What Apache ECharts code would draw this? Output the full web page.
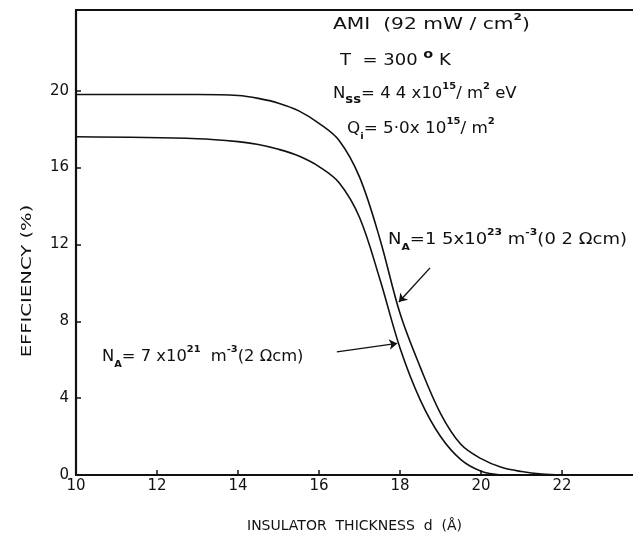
<!DOCTYPE html>
<html>
<head>
<meta charset="utf-8">
<script src="https://cdn.jsdelivr.net/npm/echarts@6/dist/echarts.min.js"></script>
<style>
  html, body { margin: 0; padding: 0; background: #fff; }
  #chart-container { width: 633px; height: 537px; }
</style>
</head>
<body>
<div id="chart-container"></div>
<script>
// curve for N_A = 1.5x10^23 m^-3 (0.2 ohm cm)
var dHigh = [10, 13, 14, 14.5, 15, 15.5, 16, 16.5, 17, 17.5, 18, 18.5, 19, 19.5, 20, 20.5, 21, 21.5, 22];
var effHigh = [19.8, 19.8, 19.75, 19.6, 19.35, 18.95, 18.3, 17.4, 15.5, 12.3, 8.4, 5.6, 3.2, 1.6, 0.85, 0.4, 0.18, 0.05, 0];
// curve for N_A = 7x10^21 m^-3 (2 ohm cm)
var dLow = [10, 13, 14, 14.5, 15, 15.5, 16, 16.5, 17, 17.5, 18, 18.5, 19, 19.5, 20, 20.5];
var effLow = [17.6, 17.5, 17.35, 17.2, 16.95, 16.6, 16.05, 15.2, 13.4, 10.2, 6.6, 3.9, 2.0, 0.8, 0.2, 0];

var xTicks = [10, 12, 14, 16, 18, 20, 22];
var yTicks = [0, 4, 8, 12, 16, 20];

// label arrows [from, to] in data units
var arrows = [
  [[18.74, 10.78], [17.97, 9.0]],
  [[16.44, 6.41], [17.93, 6.85]]
];

var FONT = '"DejaVu Sans", sans-serif';
var INK = '#111';

var dom = document.getElementById('chart-container');
var myChart = echarts.init(dom, null, {renderer: 'canvas'});

var rich = {
  n: {fontSize: 15, fontFamily: FONT, color: INK, lineHeight: 24},
  sup: {fontSize: 9, fontFamily: FONT, color: INK, fontWeight: 'bold', verticalAlign: 'top'},
  sub: {fontSize: 9, fontFamily: FONT, color: INK, fontWeight: 'bold', verticalAlign: 'bottom'},
  subs: {fontSize: 12, fontFamily: FONT, color: INK, fontWeight: 'bold', verticalAlign: 'bottom'},
  deg: {fontSize: 12, fontFamily: FONT, color: INK, fontWeight: 'bold', verticalAlign: 'top'}
};

function note(x, y, str, sx) {
  return {
    type: 'text', x: x, y: y, scaleX: sx || 1,
    style: {text: str, rich: rich, fill: INK, font: '15px ' + FONT,
      align: 'left', verticalAlign: 'middle', textAlign: 'left', textVerticalAlign: 'middle'}
  };
}

function pairs(xs, ys) {
  return xs.map(function (x, i) { return [x, ys[i]]; });
}

option = {
  backgroundColor: '#fff',
  animation: false,
  grid: {left: 76, top: 10, right: 0, bottom: 62, outerBoundsMode: 'none'},
  xAxis: [
    {
      type: 'value', min: 10, max: 23.75, interval: 2,
      name: 'INSULATOR  THICKNESS  d  (Å)', nameLocation: 'middle', nameGap: 44,
      nameTextStyle: {fontSize: 14, fontFamily: FONT, color: INK},
      axisLine: {lineStyle: {color: INK, width: 2.2}},
      axisTick: {inside: true, length: 5, lineStyle: {color: INK, width: 1.5}, customValues: xTicks},
      axisLabel: {fontSize: 15, fontFamily: FONT, color: INK, margin: 4, customValues: xTicks},
      splitLine: {show: false}
    },
    {
      type: 'value', position: 'top', min: 10, max: 23.75,
      axisLine: {show: true, lineStyle: {color: INK, width: 2.2}},
      axisTick: {show: false}, axisLabel: {show: false}, splitLine: {show: false}
    }
  ],
  yAxis: {
    type: 'value', min: 0, max: 24.2, interval: 4,
    axisLine: {lineStyle: {color: INK, width: 2.2}},
    axisTick: {inside: true, length: 5, lineStyle: {color: INK, width: 1.5}, customValues: yTicks},
    axisLabel: {fontSize: 15, fontFamily: FONT, color: INK, margin: 7, customValues: yTicks},
    splitLine: {show: false}
  },
  graphic: [
    {
      type: 'text', x: 27, y: 281, rotation: Math.PI / 2, scaleX: 1.4,
      style: {text: 'EFFICIENCY (%)', fill: INK, font: '14px ' + FONT,
        align: 'center', verticalAlign: 'middle', textAlign: 'center', textVerticalAlign: 'middle'}
    },
    note(333, 25, '{n|AMI  (92 mW / cm}{sup|2}{n|)}', 1.35),
    note(340, 61, '{n|T  = 300 }{deg|o}{n| K}', 1.2),
    note(333, 94, '{n|N}{subs|ss}{n|= 4 4 x10}{sup|15}{n|/ m}{sup|2}{n| eV}', 1.1),
    note(347, 129, '{n|Q}{sub|i}{n|= 5·0x 10}{sup|15}{n|/ m}{sup|2}', 1.12),
    note(388, 240, '{n|N}{sub|A}{n|=1 5x10}{sup|23}{n| m}{sup|-3}{n|(0 2 Ωcm)}', 1.2),
    note(102, 357, '{n|N}{sub|A}{n|= 7 x10}{sup|21}{n|  m}{sup|-3}{n|(2 Ωcm)}', 1.09)
  ],
  series: [
    {
      type: 'line', data: pairs(dHigh, effHigh), smooth: 0.35,
      showSymbol: false, lineStyle: {color: INK, width: 1.6}, z: 3
    },
    {
      type: 'line', data: pairs(dLow, effLow), smooth: 0.35,
      showSymbol: false, lineStyle: {color: INK, width: 1.6}, z: 3
    },
    {
      type: 'lines', coordinateSystem: 'cartesian2d',
      symbol: ['none', 'arrow'], symbolSize: 8,
      lineStyle: {color: INK, width: 1.4, opacity: 1},
      data: arrows.map(function (a) { return {coords: a}; }),
      z: 4
    }
  ]
};

myChart.setOption(option);
window.addEventListener('resize', myChart.resize);
</script>
</body>
</html>
